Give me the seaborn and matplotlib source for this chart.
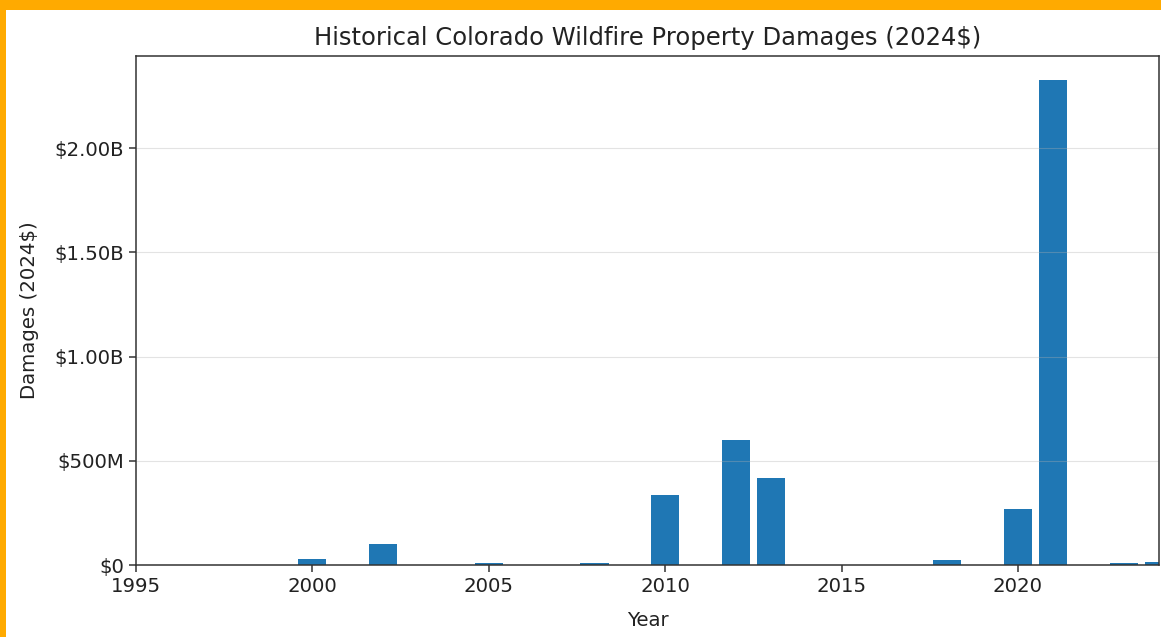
import matplotlib.pyplot as plt
import matplotlib.ticker as mticker
from matplotlib.patches import Rectangle
import numpy as np
import pandas as pd
import seaborn as sns

years = list(range(1995, 2025))
damages_m = [0, 0, 0, 0, 0, 28, 0, 103, 0, 0, 9, 0, 0, 9, 0, 336,
             0, 600, 417, 0, 0, 0, 0, 25, 0, 268, 2325, 0, 8, 13]

df = pd.DataFrame({"Year": years, "Damages": np.array(damages_m) * 1e6})


def money(v, pos):
    if v >= 1e9:
        return f"${v / 1e9:.2f}B"
    if v >= 1e6:
        return f"${v / 1e6:.0f}M"
    return "$0"


fig = plt.figure(figsize=(11.61, 6.37), dpi=100)
fig.patch.set_facecolor("#FFAA00")
fig.patches.append(Rectangle((6 / 1161, 0), 1, 627 / 637, transform=fig.transFigure,
                             facecolor="white", edgecolor="none", zorder=-10))
ax = fig.add_axes([136 / 1161, 72 / 637, 1023 / 1161, 509 / 637])

sns.barplot(data=df, x="Year", y="Damages", native_scale=True, color="#1f77b4",
            saturation=1, width=0.8, ax=ax)

ax.set_xlim(1995, 2024)
ax.set_ylim(0, 2325e6 * 1.05)
ax.set_xticks([1995, 2000, 2005, 2010, 2015, 2020])
ax.set_yticks([0, 5e8, 1e9, 1.5e9, 2e9])
ax.yaxis.set_major_formatter(mticker.FuncFormatter(money))
ax.tick_params(labelsize=14.2, colors="#333333", labelcolor="#222222", width=1.1, length=5)
for s in ax.spines.values():
    s.set_color("#333333")
    s.set_linewidth(1.1)
ax.grid(axis="y", alpha=0.35)
ax.set_title("Historical Colorado Wildfire Property Damages (2024$)", fontsize=17.5,
             pad=8, color="#222222")
ax.set_xlabel("Year", fontsize=14.2, color="#222222", labelpad=11)
ax.set_ylabel("Damages (2024$)", fontsize=14.2, color="#222222", labelpad=11)

fig.savefig("out.png", dpi=100, facecolor=fig.get_facecolor())
